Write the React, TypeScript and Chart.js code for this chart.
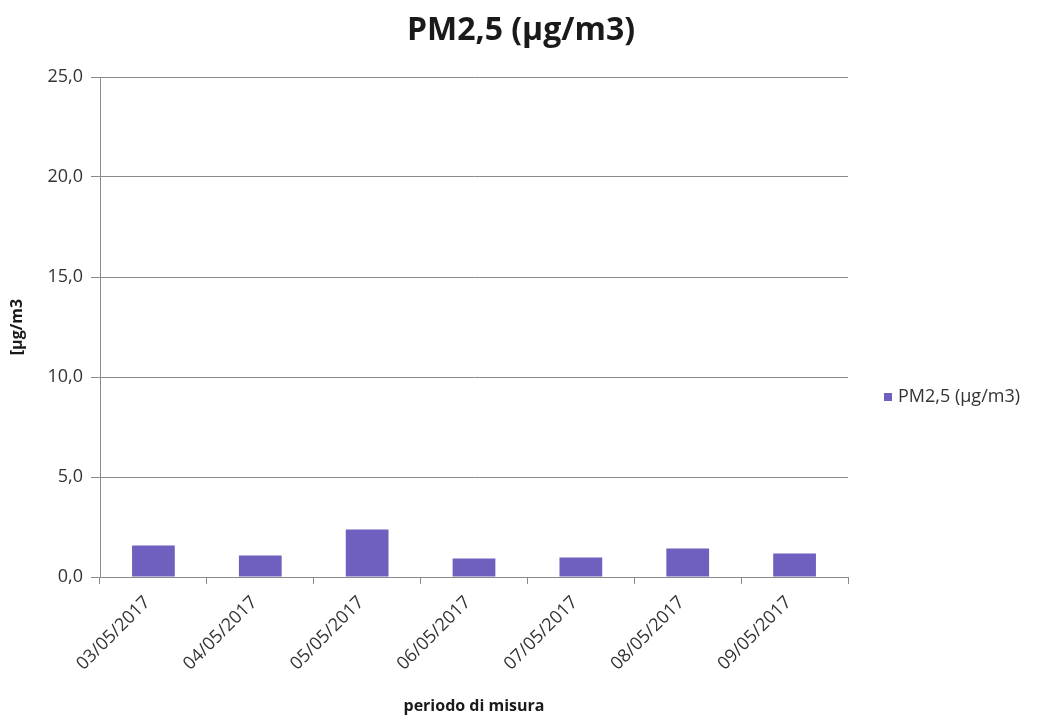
import React, { useEffect, useRef } from "react";
import { Chart, registerables } from "chart.js";

Chart.register(...registerables);

const categories = ["03/05/2017", "04/05/2017", "05/05/2017", "06/05/2017", "07/05/2017", "08/05/2017", "09/05/2017"];
const seriesName = "PM2,5 (µg/m3)";
const values = [1.58, 1.08, 2.37, 0.92, 0.97, 1.43, 1.18];
const yTicks = [0, 5, 10, 15, 20, 25];

const FONT = "'Open Sans', Lato, 'DejaVu Sans', sans-serif";
const BAR_COLOR = "#6f5fbf";
const TEXT = "#333333";
const GRID = "#8a8a8a";

const legendPlugin = {
  id: "customLegend",
  afterDraw(chart: any) {
    const ctx = chart.ctx;
    const y = 397;
    ctx.save();
    ctx.fillStyle = BAR_COLOR;
    ctx.fillRect(884, y - 4, 8, 8);
    ctx.fillStyle = TEXT;
    ctx.font = `18px ${FONT}`;
    ctx.textBaseline = "middle";
    ctx.textAlign = "left";
    ctx.fillText(seriesName, 898, y);
    ctx.restore();
  },
};

const bgPlugin = {
  id: "bg",
  beforeDraw(chart: any) {
    const ctx = chart.ctx;
    ctx.save();
    ctx.fillStyle = "#ffffff";
    ctx.fillRect(0, 0, chart.width, chart.height);
    ctx.restore();
  },
};

export default function App() {
  const ref = useRef<HTMLCanvasElement>(null);
  useEffect(() => {
    if (!ref.current) return;
    const chart = new Chart(ref.current, {
      type: "bar",
      data: {
        labels: categories,
        datasets: [
          {
            label: seriesName,
            data: values,
            backgroundColor: BAR_COLOR,
            barPercentage: 0.4,
            categoryPercentage: 1,
            yAxisID: "y",
          },
        ],
      },
      options: {
        responsive: false,
        animation: false,
        layout: { padding: { left: 0, right: 0, top: 0, bottom: 0 } },
        plugins: {
          legend: { display: false },
          tooltip: { enabled: false },
          title: {
            display: true,
            text: "PM2,5 (µg/m3)",
            color: "#1a1a1a",
            font: { family: FONT, size: 32, weight: "bold" },
            padding: { top: 12, bottom: 26.6 },
          },
        },
        scales: {
          x: {
            offset: true,
            grid: {
              display: true,
              offset: true,
              drawOnChartArea: false,
              drawTicks: true,
              tickLength: 7,
              color: GRID,
            },
            border: { display: true, color: GRID, width: 1 },
            ticks: {
              color: TEXT,
              font: { family: FONT, size: 18 },
              maxRotation: 45,
              minRotation: 45,
              padding: 8,
              labelOffset: -6,
            },
            title: {
              display: true,
              text: "periodo di misura",
              color: "#1a1a1a",
              font: { family: FONT, size: 16, weight: "bold" },
              padding: { top: 4, bottom: 4 },
            },
            afterFit(scale: any) {
              scale.height = 143;
            },
          },
          y: {
            min: 0,
            max: 25,
            afterBuildTicks(scale: any) {
              scale.ticks = yTicks.map((v) => ({ value: v }));
            },
            grid: {
              color: GRID,
              lineWidth: 1,
              drawTicks: true,
              tickLength: 9,
            },
            border: { display: true, color: GRID, width: 1 },
            ticks: {
              color: TEXT,
              font: { family: FONT, size: 18 },
              padding: 8,
              callback: (v: any) => Number(v).toFixed(1).replace(".", ","),
            },
            title: {
              display: true,
              text: "[µg/m3",
              color: "#1a1a1a",
              font: { family: FONT, size: 16, weight: "bold" },
              padding: { top: 8, bottom: 4 },
            },
            afterFit(scale: any) {
              scale.width = 100;
            },
          },
          spacer: {
            type: "linear",
            position: "right",
            display: true,
            grid: { display: false, drawTicks: false },
            border: { display: false },
            ticks: { display: false },
            afterFit(scale: any) {
              scale.width = 194;
            },
          },
        },
      },
      plugins: [bgPlugin, legendPlugin],
    });
    return () => chart.destroy();
  }, []);
  return (
    <div style={{ position: "fixed", left: 0, top: 0, width: 1042, height: 720, background: "#fff" }}>
      <canvas ref={ref} width={1042} height={720} />
    </div>
  );
}
